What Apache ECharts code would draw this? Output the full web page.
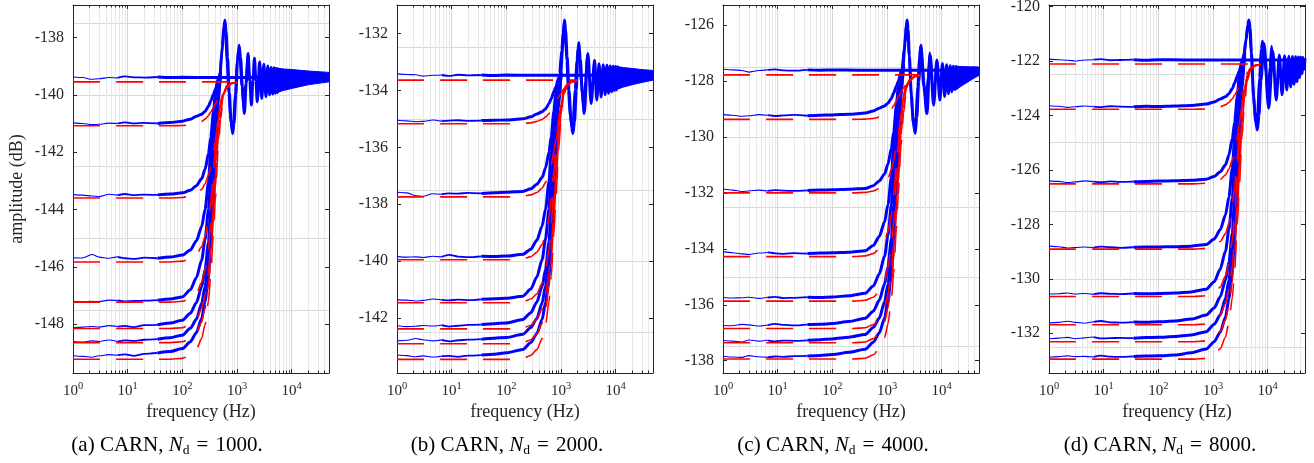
<!DOCTYPE html>
<html>
<head>
<meta charset="utf-8">
<script src="https://cdn.jsdelivr.net/npm/echarts@6/dist/echarts.min.js"></script>
<style>
html, body { margin: 0; padding: 0; background: #fff; }
#main { width: 1314px; height: 463px; }
</style>
</head>
<body>
<div id="main"></div>
<script>
// ---------------- values ----------------
var decades = [1, 10, 100, 1000, 10000];
var yTicksA = [-148, -146, -144, -142, -140, -138];
var yTicksB = [-142, -140, -138, -136, -134, -132];
var yTicksC = [-138, -136, -134, -132, -130, -128, -126];
var yTicksD = [-132, -130, -128, -126, -124, -122, -120];
var yGridA = [-147.5, -145, -142.5, -140, -137.5];
var yGridB = [-142.5, -140, -137.5, -135, -132.5];
var yGridC = [-137.5, -135, -132.5, -130, -127.5];
var yGridD = [-132.5, -130, -127.5, -125, -122.5];

// flat (top) measured curve, shared frequency grid
var topFreq = [1, 1.5, 2.2, 3, 4.5, 6.5, 9, 13, 20, 35, 60, 100, 300, 1000, 3000, 48000];
var topA = [-139.38, -139.4, -139.46, -139.44, -139.4, -139.41, -139.36, -139.39, -139.4, -139.38, -139.4, -139.39, -139.4, -139.4, -139.4, -139.4];
var topB = [-133.42, -133.44, -133.45, -133.5, -133.47, -133.46, -133.49, -133.45, -133.47, -133.46, -133.48, -133.46, -133.47, -133.47, -133.47, -133.47];
var topC = [-127.58, -127.6, -127.62, -127.68, -127.62, -127.6, -127.58, -127.62, -127.63, -127.6, -127.61, -127.6, -127.61, -127.61, -127.61, -127.61];
var topD = [-121.93, -121.95, -121.97, -122.0, -121.96, -121.95, -121.93, -121.97, -121.96, -121.95, -121.97, -121.95, -121.96, -121.96, -121.96, -121.96];

// measured (blue) curves that rise towards the top level
var freqA = [1, 1.5, 2.2, 3, 4.5, 6.5, 9, 13, 20, 35, 60, 100, 140, 180, 225, 260, 300, 330, 370, 400, 450, 500];
var blueA = [
  [-140.98, -141.0, -141.04, -141.03, -140.99, -141.0, -140.96, -141.0, -140.98, -141.0, -140.97, -140.92, -140.85, -140.75, -140.68, -140.58, -140.4, -140.22, -139.98, -139.82, -139.5, -139.35],
  [-143.48, -143.5, -143.53, -143.55, -143.47, -143.5, -143.46, -143.5, -143.48, -143.49, -143.46, -143.42, -143.33, -143.17, -142.93, -142.6, -142.05, -141.5, -140.6, -140.0, -139.5, -139.3],
  [-145.68, -145.69, -145.57, -145.66, -145.7, -145.65, -145.7, -145.72, -145.68, -145.7, -145.66, -145.59, -145.41, -145.1, -144.6, -144.0, -143.05, -142.0, -140.85, -140.15, -139.45, -139.2],
  [-147.2, -147.22, -147.2, -147.21, -147.16, -147.17, -147.2, -147.19, -147.18, -147.16, -147.12, -147.05, -146.8, -146.38, -145.77, -145.05, -144.0, -142.85, -141.3, -140.3, -139.55, -139.2],
  [-148.12, -148.1, -148.08, -148.1, -148.05, -148.08, -148.06, -148.1, -148.03, -148.02, -147.96, -147.86, -147.62, -147.25, -146.7, -146.1, -145.15, -144.0, -142.35, -141.05, -139.8, -139.2],
  [-148.6, -148.62, -148.58, -148.6, -148.55, -148.6, -148.56, -148.58, -148.54, -148.52, -148.47, -148.38, -148.14, -147.83, -147.28, -146.68, -145.72, -144.6, -142.9, -141.55, -140.05, -139.3],
  [-149.1, -149.12, -149.15, -149.1, -149.06, -149.08, -149.05, -149.1, -149.03, -149.0, -148.95, -148.85, -148.61, -148.3, -147.8, -147.2, -146.3, -145.15, -143.5, -142.15, -140.4, -139.1]
];
var freqB = [1, 1.5, 2.2, 3, 4.5, 6.5, 9, 13, 20, 35, 60, 100, 200, 280, 360, 450, 520, 600, 660, 740, 800, 900, 1000];
var blueB = [
  [-135.05, -135.07, -135.1, -135.09, -135.04, -135.08, -135.06, -135.05, -135.07, -135.06, -135.05, -135.04, -135.0, -134.93, -134.83, -134.75, -134.65, -134.47, -134.29, -134.05, -133.89, -133.57, -133.42],
  [-137.58, -137.6, -137.7, -137.72, -137.63, -137.65, -137.62, -137.63, -137.6, -137.62, -137.6, -137.58, -137.55, -137.46, -137.3, -137.06, -136.73, -136.18, -135.63, -134.73, -134.13, -133.63, -133.4],
  [-139.84, -139.86, -139.85, -139.87, -139.83, -139.85, -139.78, -139.84, -139.86, -139.83, -139.84, -139.82, -139.76, -139.58, -139.27, -138.77, -138.17, -137.22, -136.17, -135.02, -134.32, -133.62, -133.37],
  [-141.36, -141.37, -141.4, -141.38, -141.33, -141.36, -141.38, -141.35, -141.37, -141.34, -141.32, -141.3, -141.23, -140.98, -140.56, -139.95, -139.23, -138.18, -137.03, -135.48, -134.48, -133.73, -133.38],
  [-142.27, -142.3, -142.29, -142.26, -142.28, -142.25, -142.3, -142.27, -142.24, -142.23, -142.2, -142.17, -142.05, -141.81, -141.44, -140.89, -140.29, -139.34, -138.19, -136.54, -135.24, -133.99, -133.39],
  [-142.8, -142.78, -142.72, -142.76, -142.8, -142.77, -142.82, -142.78, -142.76, -142.74, -142.71, -142.68, -142.57, -142.33, -142.02, -141.47, -140.87, -139.91, -138.79, -137.09, -135.74, -134.24, -133.49],
  [-143.3, -143.32, -143.36, -143.33, -143.37, -143.34, -143.33, -143.36, -143.32, -143.3, -143.27, -143.22, -143.1, -142.86, -142.55, -142.05, -141.45, -140.55, -139.4, -137.75, -136.4, -134.65, -133.35]
];
var freqC = [1, 1.5, 2.2, 3, 4.5, 6.5, 9, 13, 20, 35, 60, 100, 200, 400, 560, 720, 900, 1040, 1200, 1320, 1480, 1600, 1800, 2000];
var blueC = [
  [-129.2, -129.22, -129.26, -129.24, -129.2, -129.22, -129.25, -129.23, -129.21, -129.24, -129.22, -129.21, -129.19, -129.14, -129.07, -128.97, -128.89, -128.79, -128.62, -128.43, -128.19, -128.02, -127.7, -127.55],
  [-131.86, -131.9, -131.95, -131.93, -131.9, -131.93, -131.9, -131.92, -131.93, -131.91, -131.9, -131.89, -131.87, -131.84, -131.74, -131.57, -131.32, -130.97, -130.4, -129.82, -128.87, -128.24, -127.72, -127.51],
  [-134.1, -134.14, -134.18, -134.2, -134.15, -134.13, -134.16, -134.18, -134.15, -134.17, -134.15, -134.14, -134.12, -134.07, -133.88, -133.56, -133.04, -132.41, -131.42, -130.33, -129.14, -128.41, -127.68, -127.42],
  [-135.74, -135.76, -135.75, -135.73, -135.77, -135.74, -135.72, -135.76, -135.75, -135.73, -135.74, -135.72, -135.68, -135.59, -135.33, -134.9, -134.26, -133.51, -132.42, -131.23, -129.61, -128.57, -127.79, -127.43],
  [-136.74, -136.75, -136.7, -136.72, -136.76, -136.73, -136.68, -136.72, -136.74, -136.71, -136.7, -136.67, -136.6, -136.48, -136.23, -135.84, -135.26, -134.63, -133.63, -132.43, -130.69, -129.33, -128.01, -127.38],
  [-137.28, -137.3, -137.33, -137.26, -137.3, -137.27, -137.31, -137.28, -137.29, -137.27, -137.25, -137.22, -137.16, -137.06, -136.81, -136.48, -135.9, -135.27, -134.27, -133.09, -131.3, -129.89, -128.31, -127.52],
  [-137.84, -137.87, -137.88, -137.82, -137.86, -137.88, -137.85, -137.86, -137.84, -137.83, -137.81, -137.78, -137.7, -137.59, -137.34, -137.01, -136.48, -135.85, -134.89, -133.67, -131.92, -130.49, -128.64, -127.26]
];
var freqD = [1, 1.5, 2.2, 3, 4.5, 6.5, 9, 13, 20, 35, 60, 100, 200, 400, 750, 1050, 1350, 1690, 1950, 2250, 2480, 2780, 3000, 3380, 3750];
var blueD = [
  [-123.64, -123.66, -123.7, -123.68, -123.65, -123.67, -123.69, -123.66, -123.67, -123.68, -123.66, -123.67, -123.65, -123.63, -123.58, -123.5, -123.39, -123.31, -123.2, -123.01, -122.81, -122.55, -122.37, -122.04, -121.91],
  [-126.4, -126.42, -126.46, -126.44, -126.4, -126.43, -126.45, -126.42, -126.44, -126.43, -126.42, -126.41, -126.4, -126.38, -126.34, -126.24, -126.07, -125.81, -125.45, -124.85, -124.25, -123.27, -122.61, -122.07, -121.85],
  [-128.8, -128.82, -128.87, -128.85, -128.83, -128.85, -128.82, -128.84, -128.86, -128.84, -128.83, -128.83, -128.82, -128.8, -128.74, -128.54, -128.2, -127.65, -126.99, -125.95, -124.79, -123.53, -122.76, -121.99, -121.71],
  [-130.56, -130.55, -130.52, -130.56, -130.54, -130.57, -130.53, -130.55, -130.56, -130.54, -130.55, -130.54, -130.52, -130.48, -130.38, -130.11, -129.65, -128.98, -128.18, -127.03, -125.76, -124.06, -122.96, -122.13, -121.75],
  [-131.62, -131.6, -131.56, -131.6, -131.63, -131.58, -131.55, -131.6, -131.61, -131.59, -131.6, -131.58, -131.55, -131.48, -131.33, -131.07, -130.66, -130.05, -129.38, -128.33, -127.05, -125.22, -123.77, -122.39, -121.72],
  [-132.2, -132.18, -132.15, -132.2, -132.17, -132.14, -132.19, -132.18, -132.17, -132.18, -132.16, -132.15, -132.12, -132.06, -131.94, -131.67, -131.33, -130.71, -130.05, -128.98, -127.74, -125.85, -124.35, -122.69, -121.86],
  [-132.88, -132.86, -132.83, -132.86, -132.85, -132.87, -132.82, -132.86, -132.87, -132.85, -132.84, -132.83, -132.8, -132.72, -132.58, -132.31, -131.96, -131.4, -130.73, -129.72, -128.44, -126.59, -125.08, -123.12, -121.66]
];

// overshoot and ringing of the measured curves, [Hz, dB]
var ringA = [[500, -139.1], [540, -138.3], [570, -137.7], [600, -137.4], [630, -137.8], [670, -138.7], [720, -139.9], [780, -140.95], [830, -141.35], [880, -141.0], [950, -140.0], [1020, -138.8], [1090, -138.27], [1160, -138.7], [1250, -139.7], [1360, -140.65], [1470, -139.6], [1590, -138.56], [1710, -139.5], [1830, -140.36], [1950, -139.5], [2080, -138.73], [2210, -139.5], [2340, -140.24], [2590, -138.85], [2830, -140.13], [3090, -138.94], [3380, -140.07], [3650, -139.0], [3950, -140.0], [4200, -139.05], [4480, -139.97], [4720, -139.06], [5000, -139.95], [5250, -139.08], [5500, -139.92], [5750, -139.1], [6000, -139.9]];
var ring2A = [[490, -139.3], [530, -138.5], [560, -137.9], [585, -137.6], [615, -137.95], [655, -138.9], [700, -139.95], [760, -140.85], [810, -141.2], [860, -140.85], [930, -139.9], [1000, -138.85], [1060, -138.45], [1130, -138.85], [1220, -139.75], [1330, -140.5], [1440, -139.6], [1560, -138.7], [1680, -139.5]];
var ringB = [[1000, -133.35], [1080, -132.4], [1120, -131.85], [1160, -131.53], [1210, -131.9], [1290, -132.8], [1400, -134.0], [1520, -135.05], [1640, -135.52], [1760, -135.1], [1900, -134.0], [2020, -132.8], [2100, -132.33], [2250, -132.9], [2450, -134.1], [2650, -134.81], [3090, -132.7], [3550, -134.46], [4100, -132.94], [4500, -134.34], [4950, -133.06], [5400, -134.23], [5900, -133.1], [6400, -134.15], [6900, -133.12], [7400, -134.1], [7900, -133.14], [8400, -134.05], [8900, -133.15], [9400, -134.0], [9900, -133.16], [10400, -133.98], [10900, -133.17], [11400, -133.95]];
var ring2B = [[945, -133.37], [1020, -132.57], [1080, -131.97], [1130, -131.67], [1185, -132.02], [1265, -132.97], [1350, -134.02], [1465, -134.92], [1565, -135.27], [1660, -134.92], [1795, -133.97], [1930, -132.92], [2045, -132.52], [2180, -132.92], [2355, -133.82], [2565, -134.57], [2780, -133.67], [3010, -132.77], [3240, -133.57]];
var ringC = [[2000, -127.3], [2150, -126.6], [2240, -126.05], [2330, -125.82], [2420, -126.15], [2560, -127.1], [2780, -128.5], [3020, -129.5], [3270, -129.87], [3500, -129.3], [3800, -128.0], [4170, -126.72], [4700, -128.2], [5340, -129.16], [6150, -127.07], [7100, -128.86], [8150, -127.25], [9230, -128.68], [10300, -127.37], [11300, -128.55], [12300, -127.42], [13300, -128.45], [14300, -127.45], [15300, -128.38], [16300, -127.47], [17300, -128.3], [18300, -127.48], [19300, -128.25], [20300, -127.48]];
var ring2C = [[1900, -127.52], [2055, -126.8], [2175, -126.26], [2270, -125.99], [2385, -126.3], [2540, -127.16], [2715, -128.24], [2950, -129.28], [3145, -129.68], [3335, -129.28], [3610, -128.19], [3880, -127.11], [4110, -126.75], [4385, -127.11], [4735, -128.01], [5160, -128.88], [5585, -127.84], [6050, -126.98], [6520, -127.73]];
var ringD = [[3750, -121.66], [4000, -121.2], [4300, -120.7], [4530, -120.49], [4750, -120.8], [5050, -121.7], [5500, -123.3], [6000, -124.2], [6460, -124.53], [6900, -124.0], [7500, -122.7], [8550, -121.35], [10400, -123.73], [12400, -121.65], [14300, -123.43], [16300, -121.78], [18300, -123.24], [20300, -121.8], [22300, -123.06], [24300, -121.82], [26300, -122.95], [28300, -121.83], [30300, -122.85], [32300, -121.84], [34300, -122.75], [36300, -121.85], [38300, -122.6], [40300, -121.86], [42300, -122.45], [44300, -121.87], [46300, -122.3], [48000, -121.9]];
var ring2D = [[3700, -121.89], [4000, -121.29], [4230, -120.85], [4420, -120.63], [4640, -120.89], [4945, -121.59], [5285, -122.68], [5740, -123.85], [6115, -124.3], [6490, -123.85], [7020, -122.61], [7550, -121.55], [8000, -121.26], [8530, -121.55], [9210, -122.42], [10040, -123.39], [10870, -122.22], [11780, -121.44], [12680, -122.09]];

// dense ringing at high frequency: envelope of the blue band
var bandFreqA = [4800, 7000, 10000, 20000, 48000];
var bandHiA = [-139.06, -139.1, -139.12, -139.17, -139.22];
var bandLoA = [-139.95, -139.85, -139.78, -139.65, -139.55];
var bandFreqB = [9600, 14000, 20000, 30000, 48000];
var bandHiB = [-133.15, -133.2, -133.23, -133.27, -133.3];
var bandLoB = [-133.98, -133.88, -133.8, -133.72, -133.64];
var bandFreqC = [17800, 24000, 32000, 40000, 48000];
var bandHiC = [-127.47, -127.48, -127.49, -127.49, -127.5];
var bandLoC = [-128.32, -128.15, -128.0, -127.88, -127.8];

// model (red dashed) curves; they are hidden under the blue ringing above the last listed frequency
var redFreqA = [1, 20, 60, 100, 140, 180, 225, 260, 300, 330, 370, 400, 450, 500, 560, 650, 800, 1000];
var redA = [
  [-139.55, -139.55, -139.55, -139.55, -139.55, -139.55, -139.55, -139.55, -139.55, -139.55, -139.55, -139.55, -139.55, -139.55, -139.55, -139.55, -139.55, -139.55],
  [-141.08, -141.08, -141.08, -141.07, -141.05, -141.0, -140.93, -140.85, -140.73, -140.6, -140.45, -140.32, -140.15, -140.0, -139.85, -139.7, -139.6, -139.56],
  [-143.6, -143.6, -143.6, -143.58, -143.53, -143.45, -143.3, -143.1, -142.8, -142.5, -142.0, -141.6, -140.9, -140.35, -139.95, -139.7, -139.6, -139.56],
  [-145.83, -145.83, -145.83, -145.8, -145.72, -145.57, -145.3, -144.95, -144.35, -143.7, -142.7, -141.9, -140.9, -140.25, -139.9, -139.68, -139.59, -139.56],
  [-147.23, -147.23, -147.23, -147.2, -147.1, -146.92, -146.55, -146.1, -145.35, -144.5, -143.2, -142.25, -141.0, -140.3, -139.92, -139.68, -139.59, -139.56],
  [-148.15, -148.15, -148.15, -148.12, -148.02, -147.82, -147.45, -146.98, -146.2, -145.3, -143.9, -142.85, -141.35, -140.5, -139.98, -139.7, -139.6, -139.56],
  [-148.64, -148.64, -148.64, -148.61, -148.5, -148.3, -147.93, -147.45, -146.65, -145.75, -144.3, -143.2, -141.6, -140.65, -140.02, -139.72, -139.6, -139.56],
  [-149.22, -149.22, -149.22, -149.19, -149.08, -148.88, -148.5, -148.02, -147.2, -146.3, -144.8, -143.65, -141.95, -140.85, -140.1, -139.75, -139.61, -139.56]
];
var redFreqB = [1, 20, 120, 200, 280, 360, 450, 520, 600, 660, 740, 800, 900, 1000, 1120, 1300, 1600, 2000];
var redB = [
  [-133.64, -133.64, -133.64, -133.64, -133.64, -133.64, -133.64, -133.64, -133.64, -133.64, -133.64, -133.64, -133.64, -133.64, -133.64, -133.64, -133.64, -133.64],
  [-135.17, -135.17, -135.17, -135.16, -135.14, -135.09, -135.02, -134.94, -134.82, -134.69, -134.54, -134.41, -134.24, -134.09, -133.94, -133.79, -133.69, -133.65],
  [-137.74, -137.74, -137.74, -137.72, -137.67, -137.59, -137.44, -137.24, -136.94, -136.64, -136.14, -135.74, -135.04, -134.49, -134.07, -133.8, -133.69, -133.65],
  [-139.95, -139.95, -139.95, -139.92, -139.84, -139.69, -139.42, -139.07, -138.47, -137.82, -136.82, -136.02, -135.02, -134.37, -134.0, -133.78, -133.68, -133.65],
  [-141.46, -141.46, -141.46, -141.43, -141.33, -141.15, -140.78, -140.33, -139.58, -138.73, -137.43, -136.48, -135.2, -134.45, -134.05, -133.8, -133.69, -133.65],
  [-142.38, -142.38, -142.38, -142.35, -142.25, -142.05, -141.68, -141.21, -140.43, -139.53, -138.13, -137.08, -135.55, -134.65, -134.1, -133.82, -133.7, -133.65],
  [-142.9, -142.9, -142.9, -142.87, -142.76, -142.56, -142.19, -141.71, -140.91, -140.01, -138.56, -137.46, -135.8, -134.8, -134.12, -133.82, -133.7, -133.65],
  [-143.45, -143.45, -143.45, -143.42, -143.31, -143.11, -142.73, -142.25, -141.43, -140.53, -139.03, -137.88, -136.12, -134.95, -134.15, -133.83, -133.7, -133.65]
];
var redFreqC = [1, 20, 240, 400, 560, 720, 900, 1040, 1200, 1320, 1480, 1600, 1800, 2000, 2240, 2600, 3200, 4000];
var redC = [
  [-127.78, -127.78, -127.78, -127.78, -127.78, -127.78, -127.78, -127.78, -127.78, -127.78, -127.78, -127.78, -127.78, -127.78, -127.78, -127.78, -127.78, -127.78],
  [-129.37, -129.37, -129.37, -129.36, -129.34, -129.29, -129.21, -129.13, -129.0, -128.88, -128.72, -128.57, -128.4, -128.24, -128.1, -127.94, -127.83, -127.8],
  [-132.0, -132.0, -132.0, -131.98, -131.93, -131.84, -131.69, -131.48, -131.16, -130.85, -130.33, -129.92, -129.19, -128.62, -128.2, -127.94, -127.83, -127.79],
  [-134.28, -134.28, -134.28, -134.25, -134.17, -134.01, -133.73, -133.37, -132.75, -132.08, -131.04, -130.21, -129.18, -128.5, -128.14, -127.91, -127.82, -127.79],
  [-135.87, -135.87, -135.87, -135.84, -135.73, -135.54, -135.15, -134.68, -133.89, -133.0, -131.63, -130.63, -129.31, -128.57, -128.17, -127.92, -127.82, -127.79],
  [-136.85, -136.85, -136.85, -136.82, -136.71, -136.5, -136.11, -135.62, -134.79, -133.84, -132.37, -131.26, -129.68, -128.78, -128.23, -127.94, -127.83, -127.79],
  [-137.36, -137.36, -137.36, -137.33, -137.21, -137.0, -136.61, -136.11, -135.26, -134.31, -132.79, -131.63, -129.94, -128.94, -128.27, -127.96, -127.83, -127.79],
  [-137.94, -137.94, -137.94, -137.91, -137.79, -137.58, -137.18, -136.68, -135.82, -134.87, -133.3, -132.09, -130.31, -129.15, -128.36, -128.0, -127.85, -127.8]
];
var redFreqD = [1, 20, 450, 750, 1050, 1350, 1690, 1950, 2250, 2480, 2780, 3000, 3380, 3750, 4200, 4880, 6000, 7500];
var redD = [
  [-122.11, -122.11, -122.11, -122.11, -122.11, -122.11, -122.11, -122.11, -122.11, -122.11, -122.11, -122.11, -122.11, -122.11, -122.11, -122.11, -122.11, -122.11],
  [-123.77, -123.77, -123.77, -123.76, -123.74, -123.68, -123.61, -123.52, -123.39, -123.25, -123.09, -122.95, -122.76, -122.6, -122.44, -122.27, -122.16, -122.12],
  [-126.51, -126.51, -126.51, -126.49, -126.43, -126.35, -126.18, -125.97, -125.64, -125.32, -124.77, -124.34, -123.58, -122.98, -122.55, -122.27, -122.17, -122.12],
  [-128.91, -128.91, -128.91, -128.88, -128.79, -128.63, -128.34, -127.96, -127.31, -126.6, -125.52, -124.65, -123.57, -122.87, -122.49, -122.25, -122.15, -122.12],
  [-130.65, -130.65, -130.65, -130.62, -130.51, -130.31, -129.89, -129.39, -128.56, -127.61, -126.17, -125.11, -123.72, -122.94, -122.52, -122.25, -122.15, -122.12],
  [-131.69, -131.69, -131.69, -131.66, -131.55, -131.32, -130.91, -130.39, -129.52, -128.52, -126.96, -125.79, -124.11, -123.17, -122.59, -122.28, -122.17, -122.12],
  [-132.31, -132.31, -132.31, -132.28, -132.15, -131.93, -131.51, -130.97, -130.08, -129.07, -127.44, -126.21, -124.41, -123.35, -122.64, -122.3, -122.17, -122.12],
  [-132.95, -132.95, -132.95, -132.92, -132.79, -132.57, -132.14, -131.6, -130.69, -129.68, -128.0, -126.71, -124.8, -123.57, -122.73, -122.33, -122.18, -122.12]
];

// ---------------- layout / styling ----------------
var FONT = 'Liberation Serif';
var INK = '#262626';
var BLUE = '#0000ff';
var RED = '#ff0000';

var panels = [
  { left: 73, yMin: -149.7, yMax: -136.87, ticks: yTicksA, grid: yGridA, top: topA, freq: freqA, blue: blueA, ring: ringA, ring2: ring2A,
    bandFreq: bandFreqA, bandHi: bandHiA, bandLo: bandLoA, redFreq: redFreqA, red: redA, tag: '(a)', nd: '1000', capX: 167 },
  { left: 397, yMin: -143.93, yMax: -131.0, ticks: yTicksB, grid: yGridB, top: topB, freq: freqB, blue: blueB, ring: ringB, ring2: ring2B,
    bandFreq: bandFreqB, bandHi: bandHiB, bandLo: bandLoB, redFreq: redFreqB, red: redB, tag: '(b)', nd: '2000', capX: 507 },
  { left: 723, yMin: -138.44, yMax: -125.28, ticks: yTicksC, grid: yGridC, top: topC, freq: freqC, blue: blueC, ring: ringC, ring2: ring2C,
    bandFreq: bandFreqC, bandHi: bandHiC, bandLo: bandLoC, redFreq: redFreqC, red: redC, tag: '(c)', nd: '4000', capX: 833 },
  { left: 1049, yMin: -133.46, yMax: -119.94, ticks: yTicksD, grid: yGridD, top: topD, freq: freqD, blue: blueD, ring: ringD, ring2: ring2D,
    bandFreq: null, bandHi: null, bandLo: null, redFreq: redFreqD, red: redD, tag: '(d)', nd: '8000', capX: 1160 }
];
var PW = 256, PT = 5, PH = 368;

// minor log ticks 2..9 per decade
var minorTicks = [];
decades.forEach(function (d) {
  for (var k = 2; k <= 9; k++) {
    if (k * d < 48000) minorTicks.push(k * d);
  }
});

function pairs(fs, vs) {
  return fs.map(function (f, i) { return [f, vs[i]]; });
}

function lineSeries(p, data, width, color, dash, z, smooth) {
  return {
    type: 'line', xAxisIndex: p * 4, yAxisIndex: p * 3, data: data,
    symbol: 'none', silent: true, z: z, smooth: smooth, smoothMonotone: 'x',
    lineStyle: { color: color, width: width, type: dash || 'solid' },
    emphasis: { disabled: true }
  };
}

// the measured traces look thin at low frequency and get denser (thicker) above ~30 Hz
function pushBlue(series, p, pts) {
  var parts = [[1, 6.5, 1.1], [6.5, 35, 1.8], [35, 1e9, 3]];
  parts.forEach(function (c) {
    var seg = pts.filter(function (q) { return q[0] >= c[0] && q[0] <= c[1]; });
    if (seg.length > 1) series.push(lineSeries(p, seg, c[2], BLUE, null, 3, 0.25));
  });
}

// filled band between the upper and lower envelope of the dense ringing
function bandSeries(p, P) {
  return {
    type: 'custom', xAxisIndex: p * 4, yAxisIndex: p * 3, silent: true, z: 3,
    data: [[P.bandFreq[0], P.bandHi[0]]],
    renderItem: function (params, api) {
      var pts = [];
      P.bandFreq.forEach(function (f, i) { pts.push(api.coord([f, P.bandHi[i]])); });
      for (var i = P.bandFreq.length - 1; i >= 0; i--) pts.push(api.coord([P.bandFreq[i], P.bandLo[i]]));
      return { type: 'polygon', shape: { points: pts }, style: { fill: BLUE, stroke: BLUE, lineWidth: 1 } };
    }
  };
}

var grids = [], xAxes = [], yAxes = [], series = [], graphics = [];

panels.forEach(function (P, p) {
  grids.push({ left: P.left, top: PT, width: PW, height: PH, outerBoundsMode: 'none' });

  var xBase = { type: 'log', logBase: 10, gridIndex: p, min: 1, max: 48000 };
  xAxes.push(Object.assign({}, xBase, {
    position: 'bottom',
    axisLine: { show: true, onZero: false, lineStyle: { color: INK, width: 1 } },
    axisTick: { show: true, inside: true, length: 4, customValues: decades, lineStyle: { color: INK } },
    axisLabel: {
      show: true, customValues: decades, margin: 8, color: INK,
      formatter: function (v) { return '{b|10}{s|' + Math.round(Math.log10(v)) + '}'; },
      rich: {
        b: { fontSize: 15, fontFamily: FONT, color: INK, lineHeight: 20 },
        s: { fontSize: 10.5, fontFamily: FONT, color: INK, verticalAlign: 'top' }
      }
    },
    splitLine: { show: true, lineStyle: { color: '#d6d6d6', width: 1 } }
  }));
  xAxes.push(Object.assign({}, xBase, {
    position: 'bottom',
    axisLine: { show: false, onZero: false },
    axisTick: { show: true, inside: true, length: 2.5, customValues: minorTicks, lineStyle: { color: INK } },
    axisLabel: { show: false },
    splitLine: { show: true, lineStyle: { color: '#e8e8e8', width: 1 } }
  }));
  xAxes.push(Object.assign({}, xBase, {
    position: 'top',
    axisLine: { show: true, onZero: false, lineStyle: { color: INK, width: 1 } },
    axisTick: { show: true, inside: true, length: 4, customValues: decades, lineStyle: { color: INK } },
    axisLabel: { show: false },
    splitLine: { show: false }
  }));
  xAxes.push(Object.assign({}, xBase, {
    position: 'top',
    axisLine: { show: false, onZero: false },
    axisTick: { show: true, inside: true, length: 2.5, customValues: minorTicks, lineStyle: { color: INK } },
    axisLabel: { show: false },
    splitLine: { show: false }
  }));

  var yBase = { type: 'value', gridIndex: p, min: P.yMin, max: P.yMax, scale: true };
  yAxes.push(Object.assign({}, yBase, {
    position: 'left',
    axisLine: { show: true, onZero: false, lineStyle: { color: INK, width: 1 } },
    axisTick: { show: true, inside: true, length: 4, customValues: P.ticks, lineStyle: { color: INK } },
    axisLabel: {
      show: true, customValues: P.ticks, margin: 9,
      formatter: function (v) { return '{n|' + v + '}'; },
      rich: { n: { fontSize: 16, fontFamily: FONT, color: INK } }
    },
    splitLine: { show: false }
  }));
  yAxes.push(Object.assign({}, yBase, {
    position: 'right',
    axisLine: { show: true, onZero: false, lineStyle: { color: INK, width: 1 } },
    axisTick: { show: true, inside: true, length: 4, customValues: P.ticks, lineStyle: { color: INK } },
    axisLabel: { show: false },
    splitLine: { show: false }
  }));
  yAxes.push(Object.assign({}, yBase, {
    position: 'left',
    axisLine: { show: false },
    axisTick: { show: false, customValues: P.grid },
    axisLabel: { show: false },
    splitLine: { show: true, lineStyle: { color: '#d9d9d9', width: 1 } }
  }));

  // blue measured curves
  pushBlue(series, p, pairs(topFreq, P.top));
  P.blue.forEach(function (row) { pushBlue(series, p, pairs(P.freq, row)); });
  series.push(lineSeries(p, P.ring, 3, BLUE, null, 3, 0.3));
  series.push(lineSeries(p, P.ring2, 2.4, BLUE, null, 3, 0.3));
  if (P.bandFreq) series.push(bandSeries(p, P));

  // red dashed model curves
  P.red.forEach(function (row) {
    series.push(lineSeries(p, pairs(P.redFreq, row), 1.6, RED, [27, 16], 4, 0.25));
  });

  graphics.push({
    type: 'text', x: P.left + PW / 2, y: 412, silent: true,
    style: { text: 'frequency (Hz)', fontSize: 18, fontFamily: FONT, fill: INK, align: 'center', verticalAlign: 'middle' }
  });
  graphics.push({
    type: 'text', x: P.capX, y: 445, silent: true,
    style: {
      text: '{t|' + P.tag + ' CARN, }{i|N}{s|d}{t|\u2004=\u2004' + P.nd + '.}',
      align: 'center', verticalAlign: 'middle',
      rich: {
        t: { fontSize: 21, fontFamily: FONT, fill: '#000', lineHeight: 25 },
        i: { fontSize: 21, fontFamily: FONT, fontStyle: 'italic', fill: '#000', lineHeight: 25 },
        s: { fontSize: 13.5, fontFamily: FONT, fill: '#000', verticalAlign: 'bottom' }
      }
    }
  });
});

graphics.push({
  type: 'text', x: 17, y: 189, rotation: Math.PI / 2, silent: true,
  style: { text: 'amplitude (dB)', fontSize: 18, fontFamily: FONT, fill: INK, align: 'center', verticalAlign: 'middle' }
});

var myChart = echarts.init(document.getElementById('main'), null, { renderer: 'canvas' });
myChart.setOption({
  animation: false,
  backgroundColor: '#ffffff',
  grid: grids,
  xAxis: xAxes,
  yAxis: yAxes,
  series: series,
  graphic: graphics
});
</script>
</body>
</html>
